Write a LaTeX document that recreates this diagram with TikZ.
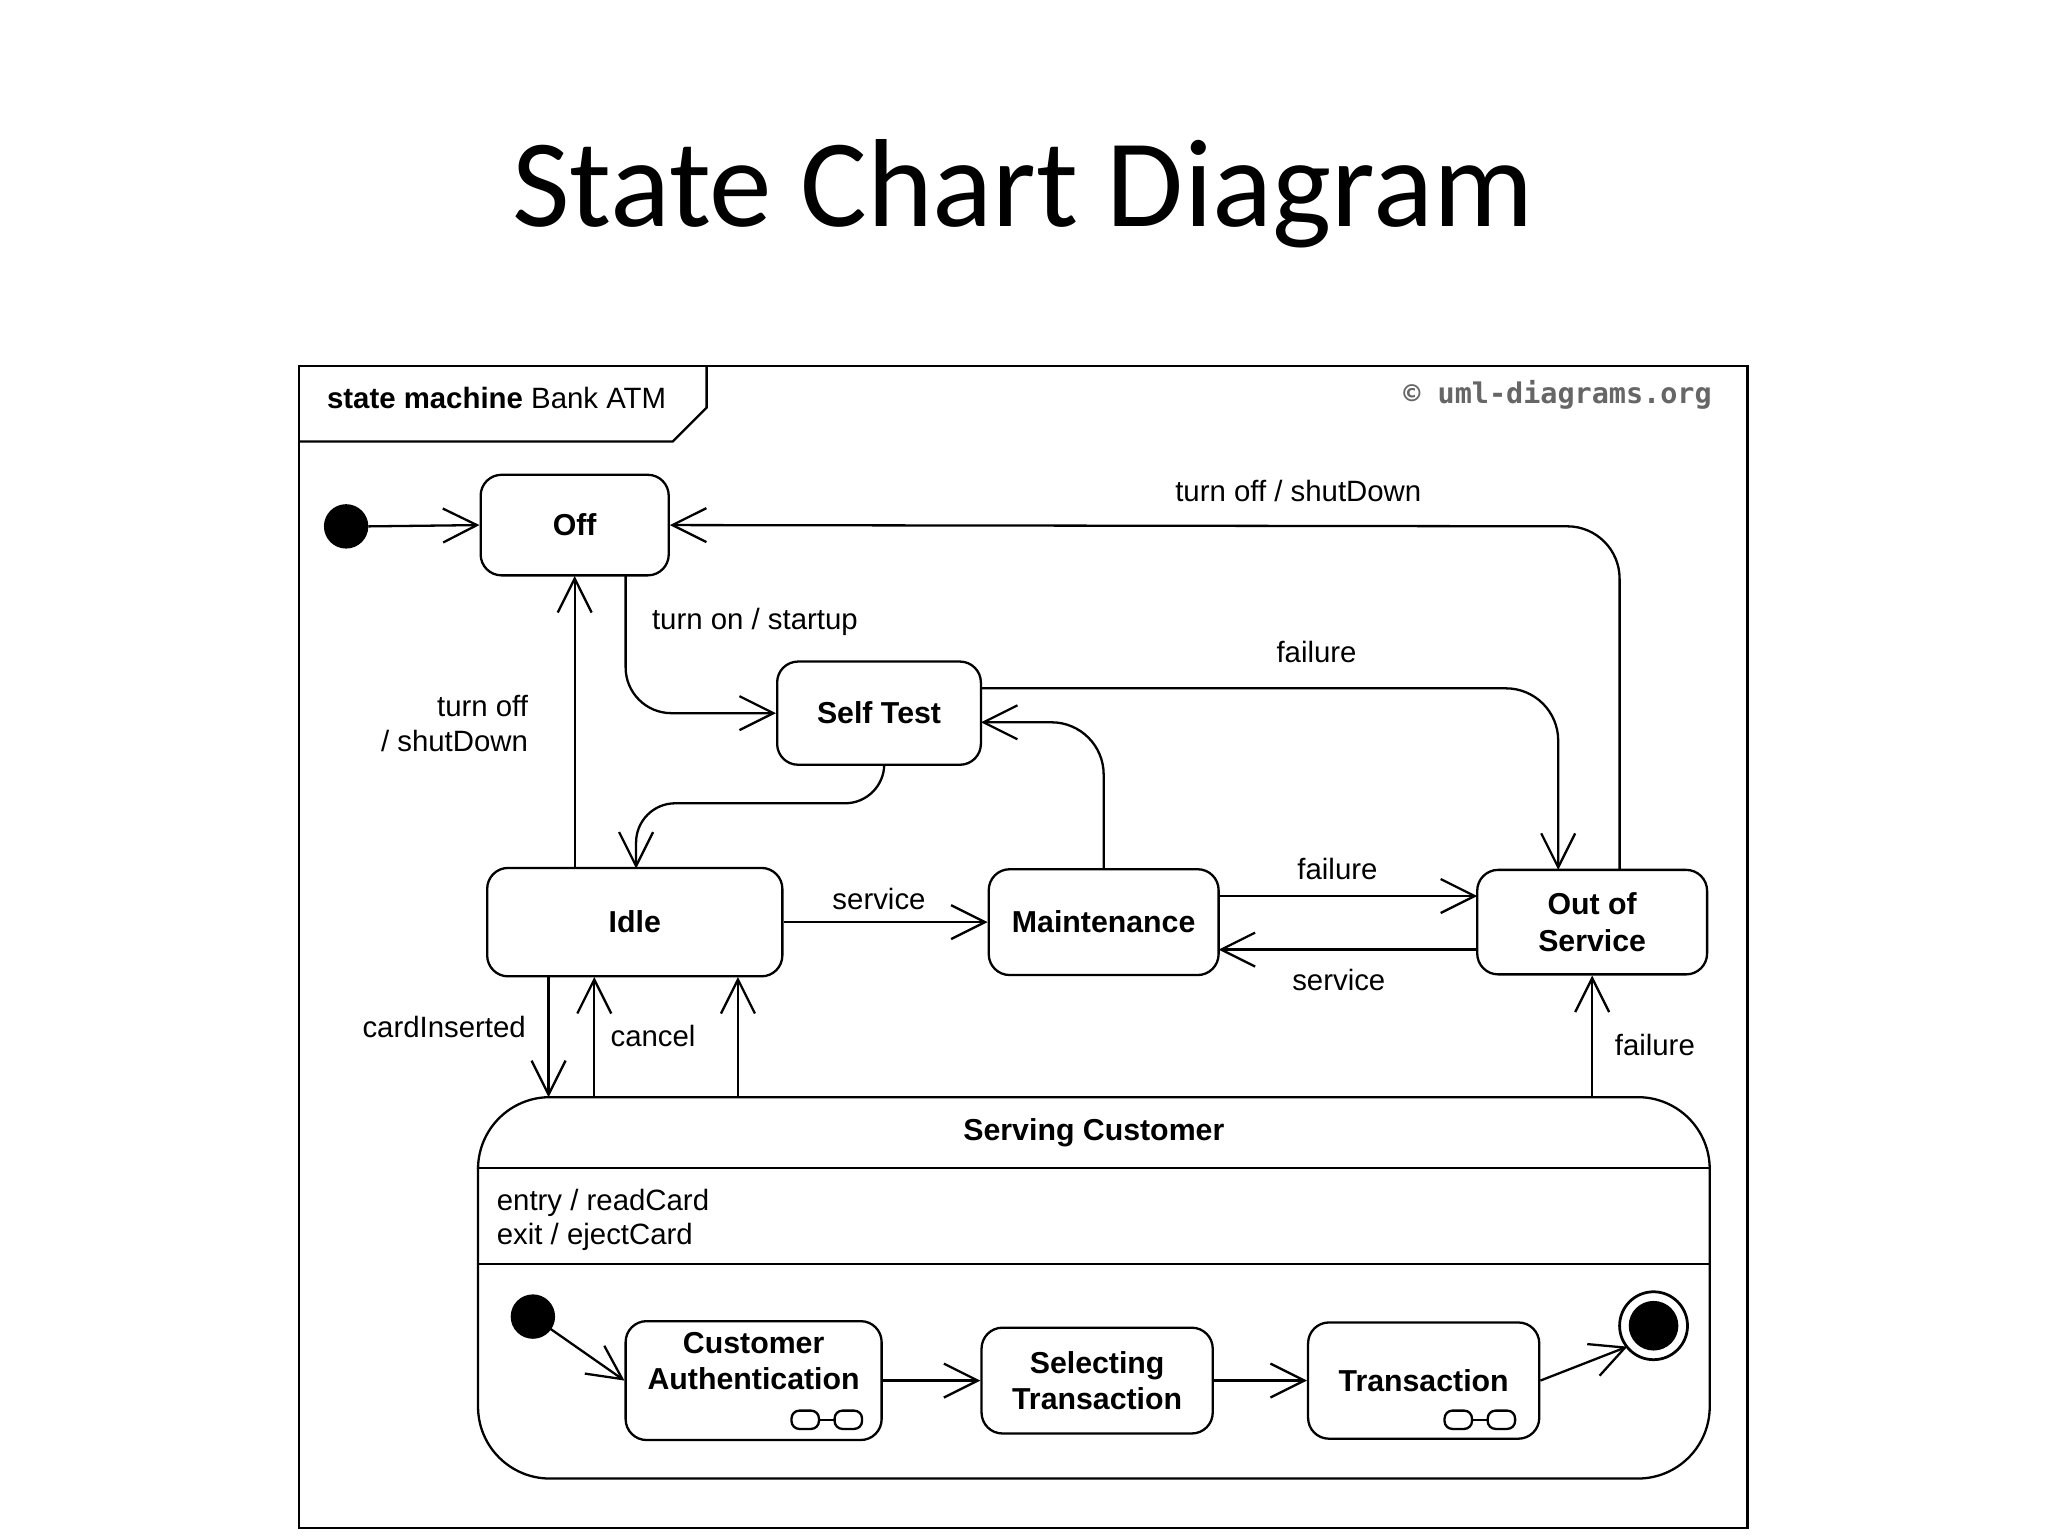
\documentclass[tikz,border=0pt]{standalone}
\usepackage{fontspec}
\setmainfont{Liberation Sans}
\newfontfamily\titlefont{Carlito}
\newfontfamily\copyfont{DejaVu Sans Mono}
\usetikzlibrary{arrows.meta}
\begin{document}
\begin{tikzpicture}[x=0.1mm,y=-0.1mm,
  every node/.style={font=\fontsize{6.4}{7.6}\selectfont},
  st/.style={draw,line width=0.5pt,rounded corners=1.6mm,inner sep=0pt,align=center,font=\fontsize{6.6}{8}\selectfont\bfseries},
  ln/.style={line width=0.5pt},
  ar/.style={ln,-{Straight Barb[length=2.6mm,width=2.6mm]}},
  lbl/.style={inner sep=1pt}]
\useasboundingbox (0,0) rectangle (1568,1176);
\node[font=\titlefont\fontsize{27.3}{31}\selectfont] (title) at (783,148) {State Chart Diagram};
% frame
\draw[ln] (229,280) rectangle (1338,1170);
\draw[ln] (229,338) -- (515,338) -- (541,312) -- (541,280);
\node[anchor=west] (fr) at (238,305) {\textbf{state machine} Bank ATM};
\node[anchor=east,font=\copyfont\fontsize{6.2}{7.6}\selectfont\bfseries,text=black!60] (copy) at (1323,302) {\textcopyright{} uml-diagrams.org};
% states
\fill (265,403) circle (17) coordinate (init);
\node[st,minimum width=14.4mm,minimum height=7.7mm] (Off) at (440,402) {Off};
\node[st,minimum width=15.6mm,minimum height=7.9mm] (ST) at (673,546) {Self Test};
\node[st,minimum width=22.6mm,minimum height=8.3mm] (Idle) at (486,706) {Idle};
\node[st,minimum width=17.6mm,minimum height=8.1mm] (M) at (845,706) {Maintenance};
\node[st,minimum width=17.6mm,minimum height=8.0mm] (OOS) at (1219,706) {Out of\\Service};
% serving customer
\draw[ln,rounded corners=5.5mm] (366,894) -- (366,840) -- (1309,840) -- (1309,894);
\draw[ln,rounded corners=5.5mm] (366,894) -- (366,1132) -- (1309,1132) -- (1309,894);
\draw[ln] (366,894) -- (1309,894) (366,968) -- (1309,968);
\path (366,840) rectangle (1309,894) node[midway,font=\fontsize{6.6}{8}\selectfont\bfseries] (SC) {Serving Customer};
\node[anchor=west,align=left,font=\fontsize{6.4}{7.6}\selectfont] (ent) at (368,934) {entry / readCard\\exit / ejectCard};
\fill (408,1008) circle (17) coordinate (init2);
\node[st,minimum width=19.6mm,minimum height=9.1mm,anchor=center] (CA) at (577,1057) {};
\node[font=\fontsize{6.6}{8}\selectfont\bfseries,align=center] (CAt) at (577,1042) {Customer\\Authentication};
\node[st,minimum width=17.7mm,minimum height=8.1mm] (SEL) at (840,1057) {Selecting\\Transaction};
\node[st,minimum width=17.7mm,minimum height=8.9mm] (TR) at (1090,1057) {Transaction};
\draw[line width=0.6pt] (1266,1015) circle (26);
\fill (1266,1015) circle (19) coordinate (fin);
% glasses
\foreach \c in {633,1133}{
  \draw[line width=0.5pt,rounded corners=0.6mm] (\c-27,1080) rectangle (\c-6,1094);
  \draw[line width=0.5pt,rounded corners=0.6mm] (\c+6,1080) rectangle (\c+27,1094);
  \draw[line width=0.5pt] (\c-6,1087) -- (\c+6,1087);}
% transitions
\draw[ar] (282,403) -- (Off.west);
\draw[ar,rounded corners=4mm] (1240,666) -- (1240,403) -- (Off.east);
\node (l1) at (994,376) {turn off / shutDown};
\draw[ar,rounded corners=3.5mm] (479,441) -- (479,546) -- (ST.west);
\node (l2) at (578,476) {turn on / startup};
\draw[ar,rounded corners=4mm] (751,527) -- (1193,527) -- (1193,666);
\node (l3) at (1008,499) {failure};
\draw[ar,rounded corners=3mm] (677,586) -- (677,615) -- (487,615) -- (487,665);
\draw[ar,rounded corners=4mm] (M.north) -- (845,553) -- (751,553);
\draw[ar] (440,665) -- (440,441);
\node[align=right] (l4) at (368,554) {turn off\\\hspace*{-4mm}/ shutDown};
\draw[ar] (Idle.east) -- (M.west);
\node (l5) at (673,688) {service};
\draw[ar] (933,686) -- (1131,686);
\node (l6) at (1024,665) {failure};
\draw[ar] (1131,727) -- (933,727);
\node (l7) at (1025,750) {service};
\draw[ar] (420,748) -- (420,840);
\node[anchor=east] (l8) at (415,786) {cardInserted};
\draw[ar] (455,840) -- (455,748);
\node (l9) at (500,793) {cancel};
\draw[ar] (565,840) -- (565,748);
\draw[ar] (1219,840) -- (OOS.south);
\node (l10) at (1267,800) {failure};
\draw[ar] (init2) -- (CA.west);
\draw[ar] (CA.east) -- (SEL.west);
\draw[ar] (SEL.east) -- (TR.west);
\draw[ar] (TR.east) -- (1246,1031);
\end{tikzpicture}
\end{document}
